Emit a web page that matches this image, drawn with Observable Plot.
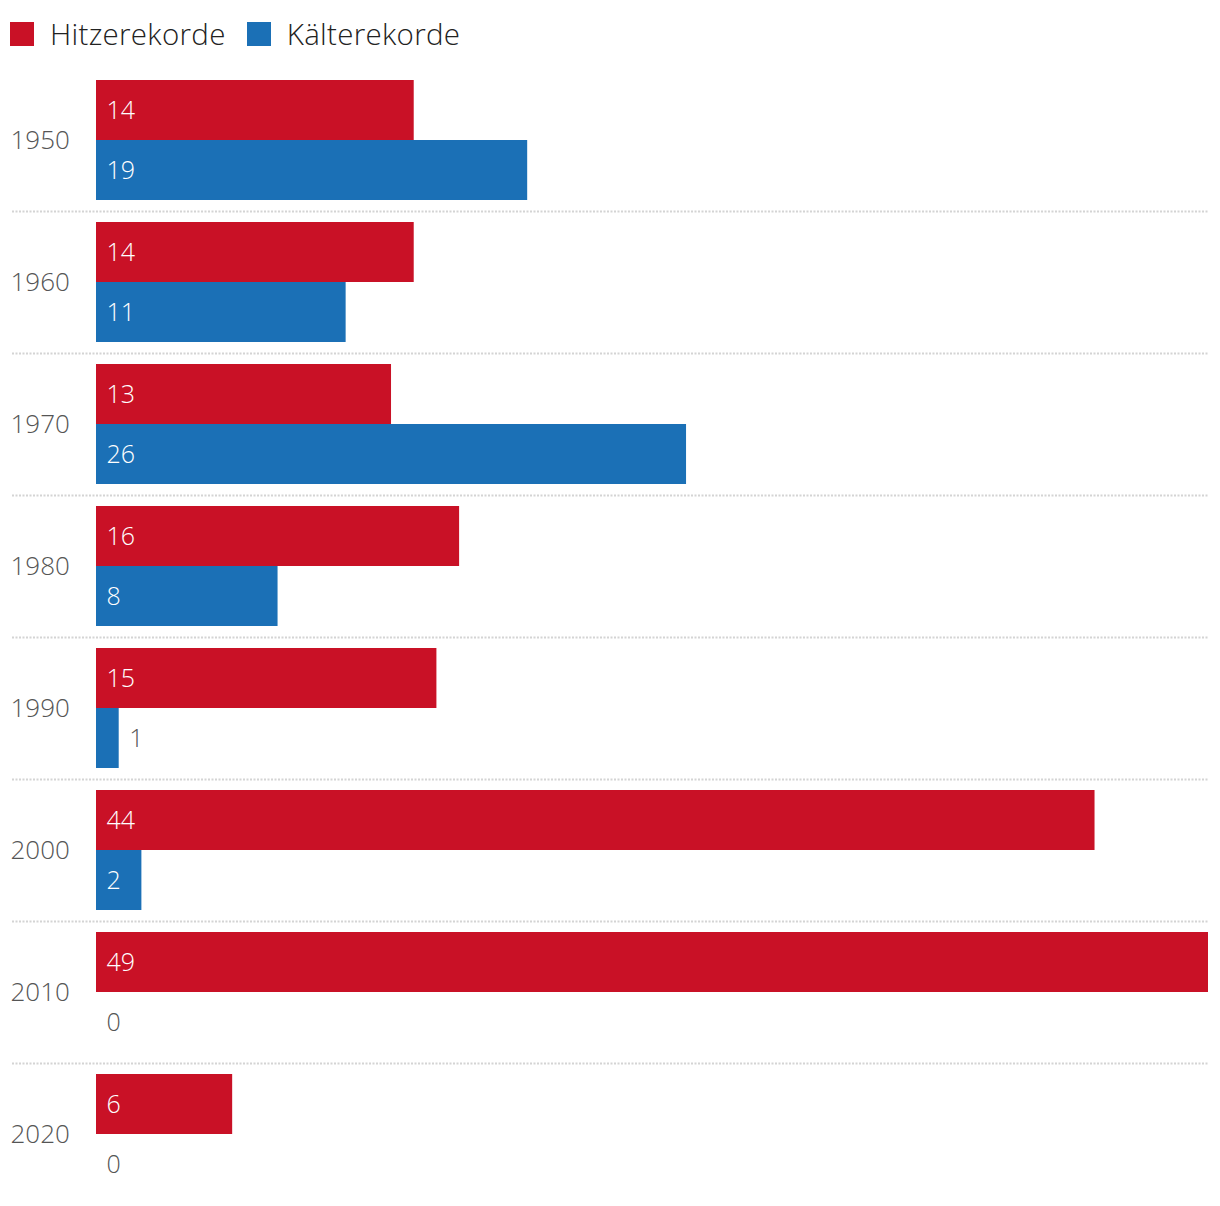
<!DOCTYPE html>
<html>
<head>
<meta charset="utf-8">
<script src="https://cdn.jsdelivr.net/npm/d3@7"></script>
<script src="https://cdn.jsdelivr.net/npm/@observablehq/plot@0.6"></script>
<style>
  body { margin: 0; background: #fff; font-family: "Open Sans", sans-serif; }
  #legend { height: 47px; padding-top: 22px; padding-left: 10px; display: flex; align-items: flex-start; }
  .item { display: flex; align-items: center; height: 24px; margin-right: 21px; }
  .sw { width: 24px; height: 24px; margin-right: 16px; }
  .lab { font-size: 29.5px; color: #222; line-height: 24px; font-weight: 300; letter-spacing: 0.3px; }
</style>
</head>
<body>
<div id="legend"></div>
<div id="chart"></div>
<script>
const years = ["1950", "1960", "1970", "1980", "1990", "2000", "2010", "2020"];
const hitze = [14, 14, 13, 16, 15, 44, 49, 6];
const kaelte = [19, 11, 26, 8, 1, 2, 0, 0];
const series = ["Hitzerekorde", "Kälterekorde"];
const colors = ["#c91126", "#1b70b6"];

const data = years.flatMap((y, i) => [
  {year: y, series: series[0], value: hitze[i]},
  {year: y, series: series[1], value: kaelte[i]}
]);

// legend
const legend = document.getElementById("legend");
series.forEach((s, i) => {
  const item = document.createElement("div");
  item.className = "item";
  item.innerHTML = `<div class="sw" style="background:${colors[i]}"></div><span class="lab">${s}</span>`;
  legend.appendChild(item);
});

const chart = Plot.plot({
  width: 1220,
  height: 1136,
  marginTop: 0,
  marginBottom: 0,
  marginLeft: 96,
  marginRight: 12,
  style: {fontFamily: "'Open Sans', sans-serif", background: "#fff", fontWeight: 300},
  x: {domain: [0, 49], axis: null},
  y: {domain: series, axis: null, paddingInner: 0, paddingOuter: 0.18333},
  fy: {domain: years, axis: null, paddingInner: 0, paddingOuter: 0},
  color: {domain: series, range: colors},
  marks: [
    Plot.ruleY(years.slice(1), {
      fy: d => d, y: () => series[0], dy: -41,
      insetLeft: -84, stroke: "#d4d4d4", strokeWidth: 2, strokeDasharray: "2,1.5"
    }),
    Plot.barX(data, {x: "value", y: "series", fy: "year", fill: "series"}),
    Plot.text(data.filter(d => d.value >= 2), {
      x: 0, y: "series", fy: "year", text: d => String(d.value),
      textAnchor: "start", dx: 10, fill: "white", fontSize: 25, fontWeight: 300
    }),
    Plot.text(data.filter(d => d.value < 2), {
      x: "value", y: "series", fy: "year", text: d => String(d.value),
      textAnchor: "start", dx: 10, fill: "#555", fontSize: 25, fontWeight: 300
    }),
    Plot.text(years, {
      fy: d => d, text: d => d, frameAnchor: "left", dx: -86,
      textAnchor: "start", fill: "#555", fontSize: 26, fontWeight: 300
    })
  ]
});
document.getElementById("chart").appendChild(chart);
</script>
</body>
</html>
